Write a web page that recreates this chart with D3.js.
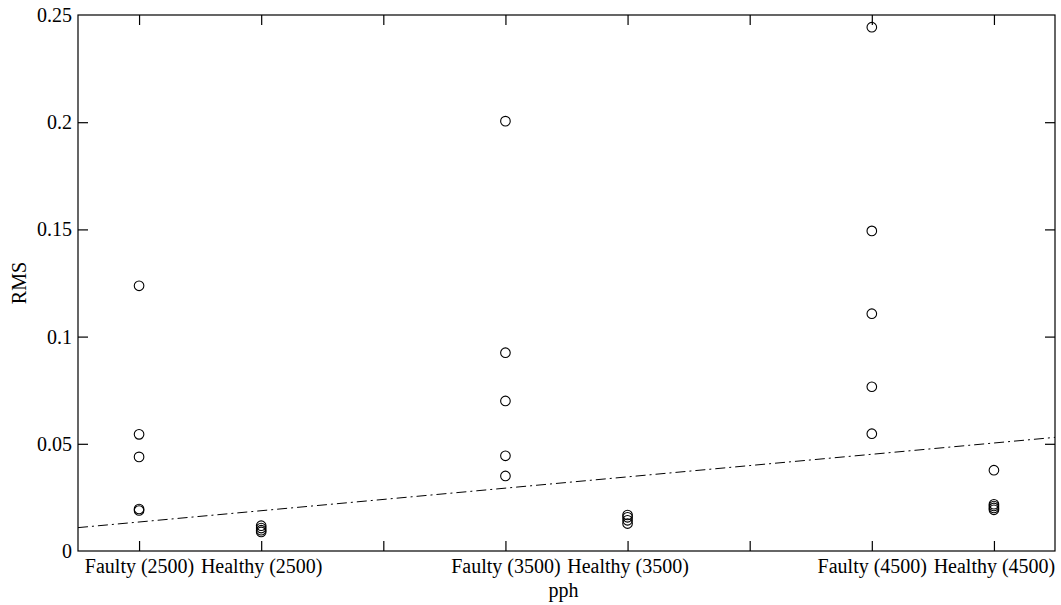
<!DOCTYPE html>
<html><head><meta charset="utf-8">
<script src="https://cdn.jsdelivr.net/npm/d3@7"></script>
<style>
body{margin:0;background:#fff;}
svg text{font-family:"Liberation Serif","Times New Roman",Times,serif !important;fill:#000;}
</style></head>
<body>
<svg id="c" width="1061" height="605"></svg>
<script>
// Data
const categories = ["Faulty (2500)", "Healthy (2500)", "", "Faulty (3500)", "Healthy (3500)", "", "Faulty (4500)", "Healthy (4500)"];
const faulty2500 = [0.1237, 0.0544, 0.0439, 0.0196, 0.0189];
const healthy2500 = [0.0118, 0.0107, 0.0097, 0.0089];
const faulty3500 = [0.2005, 0.0925, 0.0700, 0.0444, 0.0350];
const healthy3500 = [0.0168, 0.0157, 0.0143, 0.0128];
const faulty4500 = [0.2443, 0.1493, 0.1107, 0.0766, 0.0547];
const healthy4500 = [0.0377, 0.0218, 0.0210, 0.0201, 0.0192];
const seriesPositions = [1, 2, 4, 5, 7, 8];
const seriesValues = [faulty2500, healthy2500, faulty3500, healthy3500, faulty4500, healthy4500];
const thresholdX = [0.5, 8.5];
const thresholdY = [0.0109, 0.0530];
const yTicks = [0, 0.05, 0.1, 0.15, 0.2, 0.25];
const yTickLabels = ["0", "0.05", "0.1", "0.15", "0.2", "0.25"];
const xTitle = "pph", yTitle = "RMS";

const svg = d3.select("#c");
const L = 78, R = 1055, T = 15, B = 551;
const x = d3.scaleLinear().domain([0.5, 8.5]).range([L, R]);
const y = d3.scaleLinear().domain([0, 0.25]).range([B, T]);
const tickLen = 10;
const FS = 20;
const FF = "Liberation Serif";

svg.append("rect").attr("x", L).attr("y", T).attr("width", R - L).attr("height", B - T)
  .attr("fill", "none").attr("stroke", "#000").attr("stroke-width", 1.2);

const xt = d3.range(1, 9);
const bx = svg.append("g").attr("transform", `translate(0,${B})`)
  .call(d3.axisBottom(x).tickValues(xt).tickSizeInner(-tickLen).tickSizeOuter(0).tickPadding(5)
    .tickFormat((d, i) => categories[i]));
const tx = svg.append("g").attr("transform", `translate(0,${T})`)
  .call(d3.axisTop(x).tickValues(xt).tickSizeInner(-tickLen).tickSizeOuter(0).tickFormat(""));
const ly = svg.append("g").attr("transform", `translate(${L},0)`)
  .call(d3.axisLeft(y).tickValues(yTicks).tickSizeInner(-tickLen).tickSizeOuter(0).tickPadding(6)
    .tickFormat((d, i) => yTickLabels[i]));
const ry = svg.append("g").attr("transform", `translate(${R},0)`)
  .call(d3.axisRight(y).tickValues(yTicks).tickSizeInner(-tickLen).tickSizeOuter(0).tickFormat(""));

[bx, tx, ly, ry].forEach(g => {
  g.attr("font-family", FF).attr("font-size", FS);
  g.select(".domain").remove();
  g.selectAll("line").attr("stroke", "#000").attr("stroke-width", 1.2);
  g.selectAll("text").attr("font-family", FF).attr("font-size", FS).attr("fill", "#000");
});
ly.selectAll(".tick").filter(d => d === 0 || d === 0.25).select("line").remove();
ry.selectAll(".tick").filter(d => d === 0 || d === 0.25).select("line").remove();
bx.selectAll("text").attr("dy", "0.85em");

const line = d3.line().x(d => x(d[0])).y(d => y(d[1]));
svg.append("path").datum(thresholdX.map((v, i) => [v, thresholdY[i]]))
  .attr("d", line).attr("fill", "none").attr("stroke", "#000").attr("stroke-width", 1)
  .attr("stroke-dasharray", "10,4,2,4");

const pts = [];
seriesValues.forEach((arr, i) => arr.forEach(v => pts.push([seriesPositions[i], v])));
svg.append("g").selectAll("circle").data(pts).join("circle")
  .attr("cx", d => x(d[0])).attr("cy", d => y(d[1])).attr("r", 4.8)
  .attr("fill", "none").attr("stroke", "#000").attr("stroke-width", 1.1);

svg.append("text").attr("x", (L + R) / 2 - 3).attr("y", 597).attr("text-anchor", "middle")
  .attr("font-family", FF).attr("font-size", FS).text(xTitle);
svg.append("text").attr("transform", `translate(26,${(T + B) / 2}) rotate(-90)`)
  .attr("text-anchor", "middle").attr("font-family", FF).attr("font-size", FS).text(yTitle);
</script>
</body></html>
